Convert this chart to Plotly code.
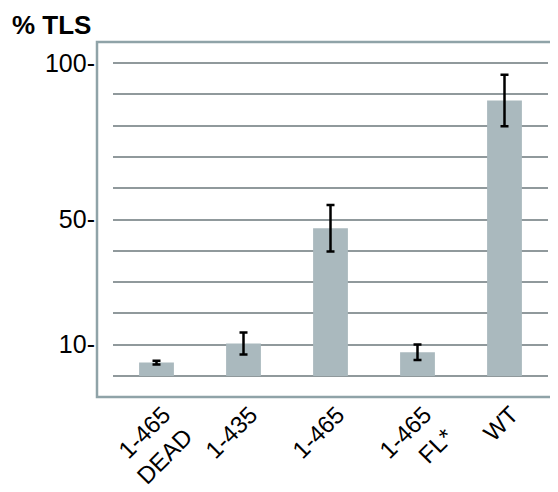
import plotly.graph_objects as go

categories = ["1-465<br>DEAD", "1-435", "1-465", "1-465<br>FL*", "WT"]
values = [4.3, 10.4, 47.2, 7.6, 88.0]
errors = [0.6, 3.5, 7.4, 2.5, 8.2]
y_tickvals = [10, 50, 100]
y_ticktext = ["10-", "50-", "100-"]

FONT = "Liberation Sans, Arial, sans-serif"

fig = go.Figure()
fig.add_trace(go.Bar(
    x=categories, y=values, width=0.4,
    marker=dict(color="#aab9be", line=dict(width=0)),
    error_y=dict(type="data", array=errors, visible=True,
                 color="black", thickness=2.5, width=4),
))

fig.update_layout(
    template="none",
    width=550, height=484,
    margin=dict(l=105, r=10, t=34, b=95, autoexpand=False),
    paper_bgcolor="white", plot_bgcolor="white",
    showlegend=False,
    font=dict(family=FONT, color="black", size=24),
    xaxis=dict(
        range=[-0.5, 4.5], showgrid=False, showline=False, zeroline=False,
        tickangle=-45, tickfont=dict(size=24), ticks="", automargin=False,
        ticklabelshift=7, ticklabelstandoff=-2,
    ),
    yaxis=dict(
        range=[-6.7, 106.7], tickvals=y_tickvals, ticktext=y_ticktext,
        showgrid=True, gridcolor="#90999c", gridwidth=2,
        zeroline=False, showline=False, ticks="", automargin=False,
        ticklabelstandoff=17, tickfont=dict(size=25),
        minor=dict(tick0=0, dtick=10, showgrid=True,
                   gridcolor="#90999c", gridwidth=2, ticks=""),
    ),
    shapes=[dict(
        type="rect", xref="paper", yref="paper",
        x0=-16/435, x1=1.1, y0=0, y1=1,
        line=dict(color="#8fa3a8", width=2.5), layer="below",
    )],
    annotations=[dict(
        text="<b>% TLS</b>", xref="paper", yref="paper",
        x=-103/435, y=1 + 34/354.4, xanchor="left", yanchor="top",
        showarrow=False, font=dict(size=26, family=FONT, color="black"),
    )],
)

fig.write_html("out.html")
